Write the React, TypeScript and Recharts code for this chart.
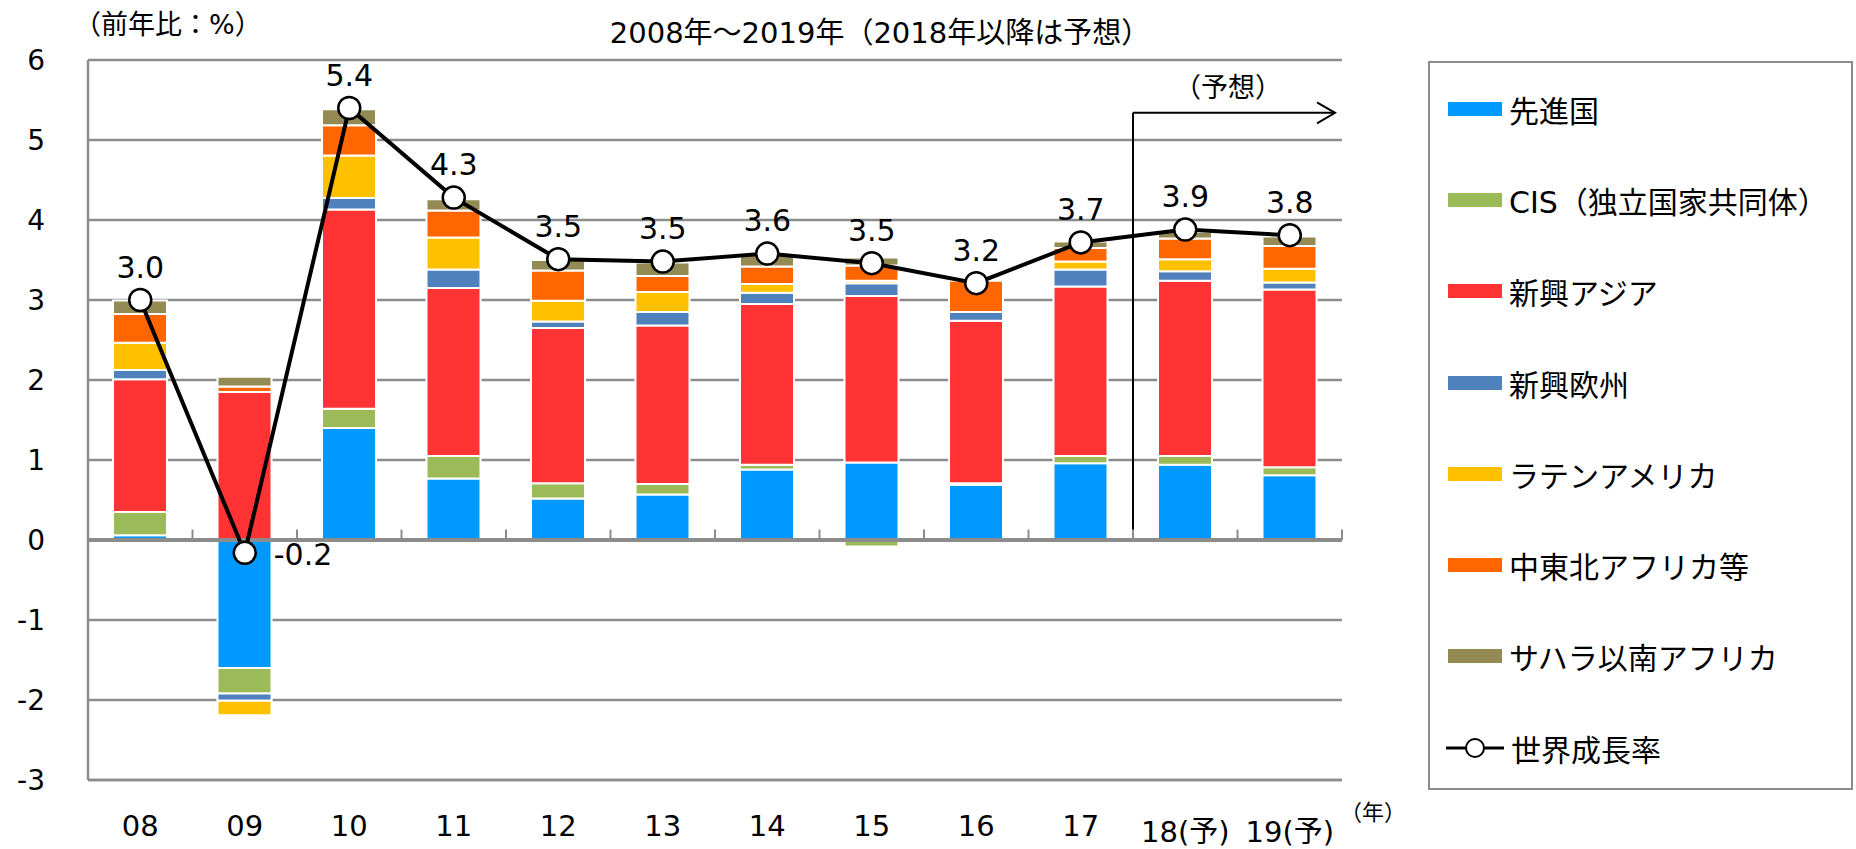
import { ComposedChart, Bar, Line, XAxis, YAxis, CartesianGrid, ReferenceLine, LabelList } from 'recharts'

const FONT = "'DejaVu Sans', 'Noto Sans CJK JP', sans-serif"

// 年（18, 19 は予想）
const categories = ['08', '09', '10', '11', '12', '13', '14', '15', '16', '17', '18(予)', '19(予)']

// 地域別寄与度（%ポイント）
const advanced = [0.06, -1.6, 1.4, 0.77, 0.52, 0.57, 0.88, 0.97, 0.69, 0.96, 0.94, 0.81]
const cis = [0.29, -0.32, 0.24, 0.28, 0.19, 0.13, 0.06, -0.08, 0.02, 0.09, 0.11, 0.1]
const emergingAsia = [1.66, 1.85, 2.49, 2.1, 1.94, 1.98, 2.01, 2.08, 2.03, 2.12, 2.19, 2.22]
const emergingEurope = [0.115, -0.09, 0.145, 0.23, 0.08, 0.17, 0.14, 0.16, 0.11, 0.21, 0.12, 0.09]
const latinAmerica = [0.34, -0.18, 0.53, 0.4, 0.26, 0.25, 0.11, 0.03, -0.03, 0.1, 0.15, 0.17]
const mena = [0.36, 0.07, 0.38, 0.34, 0.38, 0.2, 0.22, 0.19, 0.39, 0.17, 0.26, 0.285]
const subSaharan = [0.17, 0.12, 0.2, 0.14, 0.13, 0.17, 0.16, 0.1, 0, 0.08, 0.08, 0.12]

// 世界成長率
const worldGrowth = [3.0, -0.16, 5.4, 4.28, 3.51, 3.48, 3.58, 3.46, 3.21, 3.72, 3.88, 3.81]

const yTicks = [-3, -2, -1, 0, 1, 2, 3, 4, 5, 6]

const SERIES = [
  { key: 'advanced', name: '先進国', values: advanced, color: '#0099FF' },
  { key: 'cis', name: 'CIS（独立国家共同体）', values: cis, color: '#9BBB59' },
  { key: 'emergingAsia', name: '新興アジア', values: emergingAsia, color: '#FF3333' },
  { key: 'emergingEurope', name: '新興欧州', values: emergingEurope, color: '#4F81BD' },
  { key: 'latinAmerica', name: 'ラテンアメリカ', values: latinAmerica, color: '#FFC000' },
  { key: 'mena', name: '中東北アフリカ等', values: mena, color: '#FF6600' },
  { key: 'subSaharan', name: 'サハラ以南アフリカ', values: subSaharan, color: '#948A54' }
]

const WORLD_NAME = '世界成長率'
const GRID = '#8c8c8c'

const chartData = categories.map((cat, i) => {
  const row: any = { year: cat, world: worldGrowth[i] }
  SERIES.forEach(s => { row[s.key] = s.values[i] })
  return row
})

const forecastIdx = categories.findIndex(c => c.includes('予'))
const lastActual = categories[forecastIdx - 1]
const lastCategory = categories[categories.length - 1]

const XTick = ({ x, y, payload }: any) => {
  const isForecast = String(payload.value).includes('予')
  return (
    <text x={x} y={y + (isForecast ? 6 : 0)} textAnchor="middle" dominantBaseline="central"
      fontSize={29} fontFamily={FONT} fill="#000">
      {payload.value}
    </text>
  )
}

const worldLabel = (props: any) => {
  const { x, y, value } = props
  const neg = value < 0
  return (
    <text x={neg ? x + 29 : x} y={neg ? y + 2 : y - 33} textAnchor={neg ? 'start' : 'middle'}
      dominantBaseline="central" fontSize={30} fontFamily={FONT} fill="#000">
      {Number(value).toFixed(1)}
    </text>
  )
}

const ForecastArrow = (props: any) => {
  const { x1, y1, y2 } = props
  const x2 = props.x2 - 7
  return (
    <g>
      <line x1={x1} y1={y1} x2={x2} y2={y2} stroke="#000" strokeWidth={2} />
      <polyline points={`${x2 - 18},${y2 - 10.5} ${x2},${y2} ${x2 - 18},${y2 + 10.5}`}
        fill="none" stroke="#000" strokeWidth={2} />
      <text x={(x1 + x2) / 2 - 6} y={y1 - 25} textAnchor="middle" dominantBaseline="central"
        fontSize={27} fontFamily={FONT} fill="#000">（予想）</text>
    </g>
  )
}

export default function App() {
  return (
    <div style={{ position: 'absolute', left: 0, top: 0, width: 1856, height: 849, background: '#fff', fontFamily: FONT }}>
      <div style={{ position: 'absolute', left: 880, top: 15, transform: 'translateX(-50%)', fontSize: 29, lineHeight: '36px', whiteSpace: 'nowrap', color: '#000' }}>
        2008年〜2019年（2018年以降は予想）
      </div>
      <div style={{ position: 'absolute', left: 74, top: 9, fontSize: 27, lineHeight: '32px', whiteSpace: 'nowrap', color: '#000' }}>
        （前年比：%）
      </div>
      <div style={{ position: 'absolute', left: 1340, top: 799, fontSize: 22, lineHeight: '28px', whiteSpace: 'nowrap', color: '#000' }}>
        （年）
      </div>

      <ComposedChart width={1856} height={849} data={chartData} stackOffset="sign"
        margin={{ top: 60, right: 514, left: 0, bottom: 0 }}>
        <CartesianGrid vertical={false} stroke={GRID} strokeWidth={2.5} />
        <XAxis dataKey="year" height={69} interval={0} tickLine={false} tickSize={0} tickMargin={46}
          axisLine={{ stroke: GRID, strokeWidth: 2.5 }} tick={<XTick />} />
        <YAxis domain={[-3, 6]} ticks={yTicks} width={88} interval={0} tickLine={false} tickSize={0} tickMargin={43}
          axisLine={{ stroke: GRID, strokeWidth: 2.5 }}
          tick={{ fontSize: 28, fill: '#000', fontFamily: FONT }} />
        {SERIES.map(s => (
          <Bar key={s.key} dataKey={s.key} name={s.name} stackId="a" fill={s.color}
            stroke="#fff" strokeWidth={2} barSize={54} isAnimationActive={false} />
        ))}
        <ReferenceLine y={0} stroke={GRID} strokeWidth={4} />
        {categories.map(cat => (
          <ReferenceLine key={`tick-${cat}`} position="end" stroke={GRID} strokeWidth={2}
            segment={[{ x: cat, y: 0 }, { x: cat, y: 0.13 }]} />
        ))}
        <ReferenceLine position="end" stroke="#000" strokeWidth={2}
          segment={[{ x: lastActual, y: 0.13 }, { x: lastActual, y: 5.34 }]} />
        <ReferenceLine position="end" shape={ForecastArrow}
          segment={[{ x: lastActual, y: 5.34 }, { x: lastCategory, y: 5.34 }]} />
        <Line dataKey="world" name={WORLD_NAME} stroke="#000" strokeWidth={4}
          dot={{ r: 11, fill: '#fff', stroke: '#000', strokeWidth: 2.5 }} activeDot={false}
          isAnimationActive={false}>
          <LabelList dataKey="world" content={worldLabel} />
        </Line>
      </ComposedChart>

      <div style={{ position: 'absolute', left: 1428, top: 61, width: 425, height: 729, border: `2px solid ${GRID}`, boxSizing: 'border-box' }}>
        {SERIES.map(s => (
          <div key={s.key} style={{ height: 91.3, display: 'flex', alignItems: 'center', paddingLeft: 18 }}>
            <span style={{ display: 'inline-block', width: 54, height: 14, background: s.color, marginRight: 7 }} />
            <span style={{ fontSize: 30, color: '#000', whiteSpace: 'nowrap' }}>{s.name}</span>
          </div>
        ))}
        <div style={{ height: 91.3, display: 'flex', alignItems: 'center', paddingLeft: 16 }}>
          <svg width={60} height={26} style={{ marginRight: 5 }}>
            <line x1={0} y1={13} x2={58} y2={13} stroke="#000" strokeWidth={3} />
            <circle cx={29} cy={13} r={9} fill="#fff" stroke="#000" strokeWidth={2} />
          </svg>
          <span style={{ fontSize: 30, color: '#000', whiteSpace: 'nowrap' }}>{WORLD_NAME}</span>
        </div>
      </div>
    </div>
  )
}
